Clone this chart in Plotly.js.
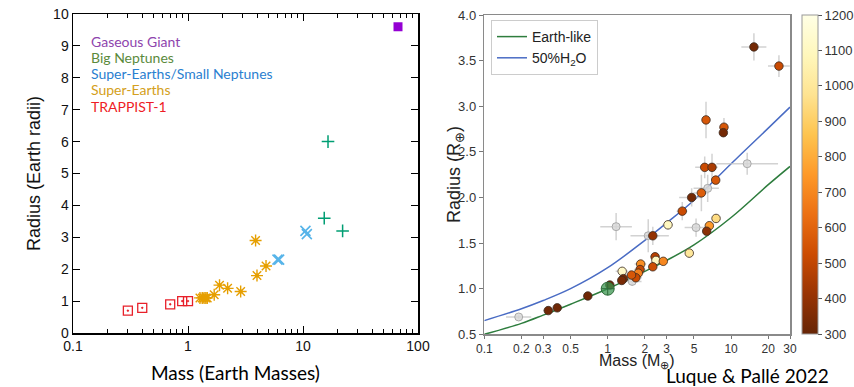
<!DOCTYPE html>
<html>
<head>
<meta charset="utf-8">
<script src="https://cdn.plot.ly/plotly-3.0.1.min.js"></script>
<style>html,body{margin:0;padding:0;background:#fff;} #chart{width:854px;height:387px;}</style>
</head>
<body>
<div id="chart"></div>
<script>
// ---------- Left panel data ----------
const trappMass = [0.30, 0.40, 0.70, 0.89, 1.00];
const trappRad  = [0.70, 0.79, 0.90, 1.00, 1.00];
const seMass = [1.27, 1.33, 1.38, 1.43, 1.47, 1.69, 1.88, 2.21, 2.87, 3.87, 3.98, 4.77];
const seRad  = [1.10, 1.10, 1.10, 1.10, 1.10, 1.20, 1.50, 1.40, 1.30, 2.90, 1.80, 2.10];
const snMass = [6.0, 6.2, 10.5, 10.8];
const snRad  = [2.3, 2.3, 3.2, 3.1];
const bnMass = [16.5, 15.3, 22.1];
const bnRad  = [6.0, 3.6, 3.2];
const ggMass = [67];
const ggRad  = [9.6];
const leftXTicks = [0.1, 1, 10, 100];
const leftXTickText = ['0.1', '1', '10', '100'];
const leftXMinor = [0.2,0.3,0.4,0.5,0.6,0.7,0.8,0.9,2,3,4,5,6,7,8,9,20,30,40,50,60,70,80,90];
const legendLabels = ['Gaseous Giant', 'Big Neptunes', 'Super-Earths/Small Neptunes', 'Super-Earths', 'TRAPPIST-1'];
const legendColors = ['#8e44ad', '#5b8a3c', '#2a80d0', '#d4a020', '#ee1c25'];

// ---------- Right panel data ----------
const pMass  = [15.3, 24.4, 6.26, 8.75, 8.65, 6.11, 7.0, 7.5, 5.74, 4.79, 4.02, 3.08, 6.66, 7.55, 6.34, 2.32, 4.58, 2.42, 2.46, 2.82, 1.85, 2.32, 1.83, 1.77, 1.69, 1.56, 1.31, 1.34, 1.30, 1.04, 0.69, 0.39, 0.33];
const pRad   = [3.65, 3.44, 2.85, 2.77, 2.71, 2.33, 2.33, 2.19, 2.05, 2.00, 1.85, 1.70, 1.69, 1.77, 1.63, 1.58, 1.39, 1.35, 1.31, 1.30, 1.27, 1.24, 1.21, 1.17, 1.12, 1.15, 1.19, 1.11, 1.09, 1.04, 0.92, 0.79, 0.76];
const pTeq   = [330, 520, 560, 560, 330, 520, 450, 560, 580, 330, 520, 1100, 750, 950, 380, 400, 1000, 480, 1100, 700, 720, 530, 510, 680, 520, 560, 1120, 330, 340, 320, 320, 320, 320];
const pMLo   = [3.2, 4.5, 0.4, 0.6, 0.6, 1.0, 0.8, 0.4, 0.8, 1.0, 0.4, 0.3, 0.4, 0.4, 0.4, 0.3, 0.3, 0.2, 0.2, 0.2, 0.2, 0.2, 0.2, 0.2, 0.2, 0.2, 0.15, 0.1, 0.1, 0.05, 0.05, 0.03, 0.03];
const pMHi   = [4.0, 5.5, 0.4, 0.6, 0.6, 1.0, 0.8, 0.4, 0.8, 1.0, 0.4, 0.3, 0.4, 0.4, 0.4, 0.3, 0.3, 0.2, 0.2, 0.2, 0.2, 0.2, 0.2, 0.2, 0.2, 0.2, 0.15, 0.1, 0.1, 0.05, 0.05, 0.03, 0.03];
const pRErr  = [0.15, 0.12, 0.20, 0.10, 0.05, 0.12, 0.15, 0.05, 0.20, 0.10, 0.10, 0.05, 0.05, 0.05, 0.05, 0.10, 0.05, 0.05, 0.04, 0.04, 0.04, 0.04, 0.04, 0.04, 0.04, 0.04, 0.05, 0.03, 0.03, 0.03, 0.02, 0.02, 0.02];
const gMass  = [13.5, 6.46, 5.2, 1.17, 2.13, 1.58, 0.19];
const gRad   = [2.37, 2.10, 1.67, 1.68, 1.58, 1.08, 0.69];
const gMLo   = [5.9, 1.5, 1.0, 0.3, 0.6, 0.3, 0.04];
const gMHi   = [10.5, 1.5, 1.2, 0.4, 1.0, 0.3, 0.05];
const gRErr  = [0.12, 0.15, 0.10, 0.15, 0.18, 0.05, 0.02];
const earthMass = [1];
const earthRad  = [1];
const curveMass  = [0.1, 0.2, 0.3, 0.5, 1, 2, 3, 5, 10, 20, 30];
const earthLikeR = [0.50, 0.62, 0.71, 0.83, 1.00, 1.19, 1.31, 1.48, 1.78, 2.14, 2.34];
const waterR     = [0.65, 0.78, 0.87, 1.00, 1.23, 1.53, 1.72, 1.97, 2.37, 2.76, 2.99];
const rightXTicks = [0.1, 0.2, 0.3, 0.5, 1, 2, 3, 5, 10, 20, 30];
const rightXTickText = ['0.1', '0.2', '0.3', '0.5', '1', '2', '3', '5', '10', '20', '30'];
const cbTicks = [300, 400, 500, 600, 700, 800, 900, 1000, 1100, 1200];

const ylorbrR = [[0,'#662506'],[0.125,'#993404'],[0.25,'#cc4c02'],[0.375,'#ec7014'],[0.5,'#fe9929'],[0.625,'#fec44f'],[0.75,'#fee391'],[0.875,'#fff7bc'],[1,'#ffffe5']];

const errStyle = {color:'rgba(195,195,195,0.75)', thickness:1.5, width:0};
const sans = 'Liberation Sans, Arial, sans-serif';

const traces = [
  {x: trappMass, y: trappRad, xaxis:'x', yaxis:'y', mode:'markers', type:'scatter', showlegend:false,
   marker:{symbol:'square-open-dot', size:9, color:'#e8202a', line:{width:1.3}}},
  {x: seMass, y: seRad, xaxis:'x', yaxis:'y', mode:'markers', type:'scatter', showlegend:false,
   marker:{symbol:'asterisk-open', size:10, color:'#e69f00', line:{width:1.4, color:'#e69f00'}}},
  {x: seMass, y: seRad, xaxis:'x', yaxis:'y', mode:'markers', type:'scatter', showlegend:false,
   marker:{symbol:'circle', size:4, color:'#e69f00'}},
  {x: snMass, y: snRad, xaxis:'x', yaxis:'y', mode:'markers', type:'scatter', showlegend:false,
   marker:{symbol:'x-thin-open', size:10, color:'#56b4e9', line:{width:1.6, color:'#56b4e9'}}},
  {x: bnMass, y: bnRad, xaxis:'x', yaxis:'y', mode:'markers', type:'scatter', showlegend:false,
   marker:{symbol:'cross-thin-open', size:9, color:'#009e73', line:{width:1.5, color:'#009e73'}}},
  {x: ggMass, y: ggRad, xaxis:'x', yaxis:'y', mode:'markers', type:'scatter', showlegend:false,
   marker:{symbol:'square', size:9, color:'#9400d3'}},

  {x: curveMass, y: earthLikeR, xaxis:'x2', yaxis:'y2', mode:'lines', type:'scatter', name:'Earth-like',
   line:{color:'#2e7d3e', width:1.5, shape:'spline'}},
  {x: curveMass, y: waterR, xaxis:'x2', yaxis:'y2', mode:'lines', type:'scatter', name:'50%H<sub>2</sub>O',
   line:{color:'#4a6cc4', width:1.5, shape:'spline'}},
  {x: gMass, y: gRad, xaxis:'x2', yaxis:'y2', mode:'markers', type:'scatter', showlegend:false,
   error_x: Object.assign({type:'data', symmetric:false, array:gMHi, arrayminus:gMLo}, errStyle),
   error_y: Object.assign({type:'data', array:gRErr}, errStyle),
   marker:{size:8, color:'rgba(215,215,215,0.8)', line:{color:'#aaaaaa', width:1}}},
  {x: pMass, y: pRad, xaxis:'x2', yaxis:'y2', mode:'markers', type:'scatter', showlegend:false,
   error_x: Object.assign({type:'data', symmetric:false, array:pMHi, arrayminus:pMLo}, errStyle),
   error_y: Object.assign({type:'data', array:pRErr}, errStyle),
   marker:{size:8.5, color:pTeq, colorscale:ylorbrR, cmin:300, cmax:1200, showscale:true,
     line:{color:'#3a2a20', width:0.8},
     colorbar:{x:801.5/854, xanchor:'left', y:(387-334)/387, yanchor:'bottom', len:319/387, lenmode:'fraction',
       thickness:16, thicknessmode:'pixels', outlinewidth:1, outlinecolor:'#999',
       tickvals:cbTicks, ticks:'outside', ticklen:4, tickcolor:'#555', tickwidth:1,
       tickfont:{family:sans, size:13, color:'#333'}, xpad:0, ypad:0}}},
  {x: earthMass, y: earthRad, xaxis:'x2', yaxis:'y2', mode:'markers', type:'scatter', showlegend:false,
   marker:{symbol:'circle-cross', size:13, color:'rgba(60,150,80,0.75)', line:{color:'#2e6b3a', width:1}}}
];

const ann = [];
for (let i = 0; i < legendLabels.length; i++) {
  ann.push({xref:'paper', yref:'paper', x:89/854, y:(387-(41+i*16.3))/387, xanchor:'left', yanchor:'middle',
    text:legendLabels[i], showarrow:false, font:{family:'Lato, sans-serif', size:14, color:legendColors[i]}});
}
ann.push({xref:'paper', yref:'paper', x:236/854, y:(387-372)/387, xanchor:'center', yanchor:'middle',
  text:'Mass (Earth Masses)', showarrow:false, font:{family:'Lato, sans-serif', size:19, color:'#000'}});
ann.push({xref:'paper', yref:'paper', x:637/854, y:(387-361)/387, xanchor:'center', yanchor:'middle',
  text:'Mass (M<sub>⊕</sub>)', showarrow:false, font:{family:sans, size:16, color:'#222'}});
ann.push({xref:'paper', yref:'paper', x:455/854, y:(387-175)/387, xanchor:'center', yanchor:'middle', textangle:-90,
  text:'Radius (R<sub>⊕</sub>)', showarrow:false, font:{family:sans, size:18, color:'#222'}});
ann.push({xref:'paper', yref:'paper', x:747/854, y:(387-375.5)/387, xanchor:'center', yanchor:'middle',
  text:'Luque &amp; Pallé 2022', showarrow:false, font:{family:'Lato, sans-serif', size:19, color:'#000'}});
ann.push({xref:'paper', yref:'paper', x:850/854, y:(387-175)/387, xanchor:'left', yanchor:'middle', textangle:-90,
  text:'T<sub>eq</sub> (K)', showarrow:false, font:{family:sans, size:17, color:'#222'}});

const layout = {
  width:854, height:387, margin:{l:0, r:0, t:0, b:0}, paper_bgcolor:'#fff', plot_bgcolor:'#fff',
  showlegend:true,
  legend:{x:491/854, y:(387-20)/387, xanchor:'left', yanchor:'top', bgcolor:'rgba(255,255,255,0.9)',
    bordercolor:'#cccccc', borderwidth:1, font:{family:sans, size:14, color:'#222'},
    tracegroupgap:0, itemwidth:30},
  xaxis:{domain:[73/854, 418/854], type:'log', range:[-1, 2], tickvals:leftXTicks, ticktext:leftXTickText,
    ticks:'inside', ticklen:7, tickwidth:1, tickcolor:'#000', mirror:'allticks', showline:true, linecolor:'#000', linewidth:1.5,
    showgrid:false, zeroline:false, anchor:'y',
    minor:{tickvals:leftXMinor, ticks:'inside', ticklen:4, tickcolor:'#000', showgrid:false},
    tickfont:{family:sans, size:14, color:'#111'}},
  yaxis:{domain:[54/387, 373/387], range:[0, 10], dtick:1, ticks:'inside', ticklen:7, tickcolor:'#000',
    mirror:'allticks', showline:true, linecolor:'#000', linewidth:1.5, showgrid:false, zeroline:false, anchor:'x',
    tickfont:{family:sans, size:14, color:'#111'},
    title:{text:'Radius (Earth radii)', standoff:8, font:{family:sans, size:18, color:'#111'}}},
  xaxis2:{domain:[484.3/854, 790/854], type:'log', range:[-1, Math.log10(30)], tickvals:rightXTicks, ticktext:rightXTickText,
    ticks:'outside', ticklen:3, tickcolor:'#777', mirror:true, showline:true, linecolor:'#8a8a8a', linewidth:1.5,
    showgrid:false, zeroline:false, anchor:'y2',
    tickfont:{family:sans, size:12, color:'#333'}},
  yaxis2:{domain:[52.7/387, 372/387], range:[0.5, 4.0], dtick:0.5, tickformat:'.1f',
    ticks:'outside', ticklen:4, tickcolor:'#777', mirror:true, showline:true, linecolor:'#8a8a8a', linewidth:1.5,
    showgrid:false, zeroline:false, anchor:'x2',
    tickfont:{family:sans, size:13, color:'#333'}},
  annotations: ann
};

Plotly.newPlot('chart', traces, layout, {staticPlot:true, displayModeBar:false});
</script>
</body>
</html>
